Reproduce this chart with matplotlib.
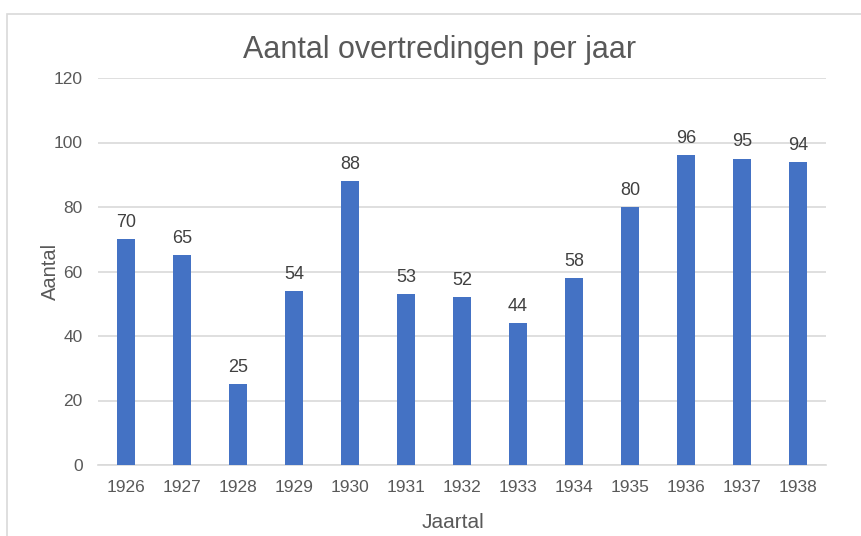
import matplotlib
matplotlib.use("Agg")
import matplotlib.pyplot as plt
from matplotlib.patches import Rectangle

years = ["1926", "1927", "1928", "1929", "1930", "1931", "1932",
         "1933", "1934", "1935", "1936", "1937", "1938"]
counts = [70, 65, 25, 54, 88, 53, 52, 44, 58, 80, 96, 95, 94]
yticks = [0, 20, 40, 60, 80, 100, 120]

plt.rcParams['font.family'] = ['Liberation Sans', 'DejaVu Sans']
W, H = 861, 536
fig = plt.figure(figsize=(W / 100, H / 100), dpi=100)
fig.patch.set_facecolor('white')

# outer frame
fig.add_artist(Rectangle((7 / W, -0.1), 1.2, 1 - 14 / H + 0.1, transform=fig.transFigure,
                         fill=False, edgecolor='#D9D9D9', linewidth=1.2))

ax = fig.add_axes([98 / W, 1 - 465 / H, (826 - 98) / W, (465 - 78) / H])
x = range(len(years))
bars = ax.bar(x, counts, width=0.33, color='#4472C4', zorder=3)
for xi, v in zip(x, counts):
    ax.annotate(str(v), (xi, v), xytext=(0, 6), textcoords='offset points',
                ha='center', va='bottom', fontsize=13, color='#404040')

ax.set_xlim(-0.5, len(years) - 0.5)
ax.set_ylim(0, 120)
ax.set_yticks(yticks)
ax.set_xticks(list(x))
ax.set_xticklabels(years)
ax.yaxis.grid(True, color='#D9D9D9', linewidth=1.2, zorder=0)
ax.tick_params(axis='both', length=0, labelsize=12.5, labelcolor='#595959')
ax.tick_params(axis='y', pad=11)
ax.tick_params(axis='x', pad=11)
for s in ['top', 'right', 'left']:
    ax.spines[s].set_visible(False)
ax.spines['bottom'].set_color('#D9D9D9')
ax.spines['bottom'].set_linewidth(1.2)

ax.text((440 - 98) / 728, (465 - 58) / 387, 'Aantal overtredingen per jaar',
        transform=ax.transAxes, ha='center', va='baseline',
        fontsize=22, color='#595959')
ax.set_ylabel('Aantal', fontsize=14.5, color='#595959')
ax.yaxis.set_label_coords((50 - 98) / 728, 0.5)
ax.yaxis.label.set_va('center')
ax.set_xlabel('Jaartal', fontsize=15, color='#595959')
ax.xaxis.set_label_coords((453 - 98) / 728, (465 - 522) / 387)
ax.xaxis.label.set_va('center')

fig.savefig('out.png', dpi=100)
